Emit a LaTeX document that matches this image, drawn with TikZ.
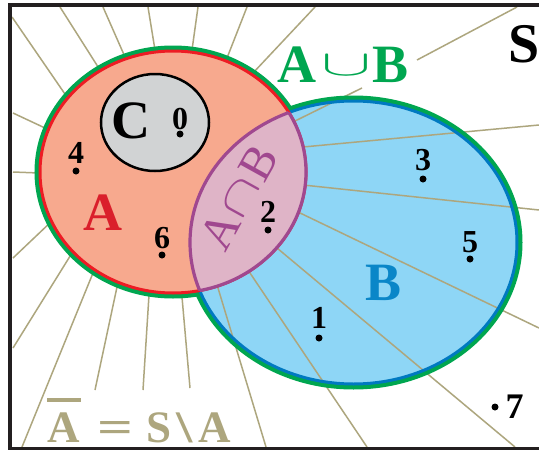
\documentclass[tikz,border=0pt]{standalone}
\usepackage{fontspec}
\setmainfont{Liberation Serif}
\usepackage{graphicx}
\usetikzlibrary{calc}
\definecolor{salmon}{HTML}{F7A98E}
\definecolor{sky}{HTML}{8ED6F6}
\definecolor{lenspink}{HTML}{DFB4C7}
\definecolor{lenspurple}{HTML}{A0488F}
\definecolor{ugreen}{HTML}{00A650}
\definecolor{ared}{HTML}{ED1C24}
\definecolor{alabel}{HTML}{DA1F2B}
\definecolor{bblue}{HTML}{0079C1}
\definecolor{blabel}{HTML}{0A86C8}
\definecolor{cgray}{HTML}{D1D3D4}
\definecolor{khaki}{HTML}{ADA67E}
\definecolor{framec}{HTML}{231F20}
\newcommand{\bigcupsym}{\resizebox{50pt}{20pt}{\fontsize{20.74}{20}\selectfont$\cup$}}
\newcommand{\bigcapsym}{\resizebox{40pt}{24pt}{\fontsize{20.74}{20}\selectfont$\cap$}}
\tikzset{
  hatch/.style={draw=khaki, line width=1.5pt},
  digit/.style={anchor=base, inner sep=0pt, font=\fontsize{32}{32}\selectfont\bfseries, text=black},
  elemdot/.style={circle, fill=black, inner sep=0pt, minimum size=7pt},
  biglabel/.style={anchor=base, inner sep=0pt, font=\fontsize{54}{54}\selectfont\bfseries},
}
\begin{document}
\begin{tikzpicture}[x=1pt,y=-1pt]
\useasboundingbox (0,0) rectangle (539,450);
\clip (0,0) rectangle (539,450);
\fill[white] (0,0) rectangle (539,450);

% hatching of the complement of A (under everything)
\foreach \ox/\oy/\ix/\iy in {12/17/67/97, 60/7/100/70, 103/7/125/57, 148/7/155/50,
  198/7/192/50, 247/7/227/58, 315/7/253/73, 362/88/293/122, 539/125/303/147,
  539/210/303/185, 539/328/298/212, 515/447/277/248, 367/447/250/273,
  266/447/218/288, 190/388/182/297, 143/390/149/295, 95/390/117/287,
  22/447/93/273, 13/348/72/253, 13/258/53/220, 13/172/39/173, 13/113/45/128}
  \draw[hatch] (\ox,\oy) -- ($(\ix,\iy)!-9pt!(\ox,\oy)$);
\draw[hatch] (517,7) -- (417,60);

% outline of the union
\draw[ugreen, line width=11pt] (173,172) ellipse [x radius=133pt, y radius=121pt];
\draw[ugreen, line width=11pt] (353.5,242.5) ellipse [x radius=163.5pt, y radius=141.5pt];

% B
\fill[sky] (353.5,242.5) ellipse [x radius=163.5pt, y radius=141.5pt];
\begin{scope}
  \clip (353.5,242.5) ellipse [x radius=163.5pt, y radius=141.5pt];
  \foreach \ox/\oy/\ix/\iy in {362/88/293/122, 539/125/303/147, 539/210/303/185,
    539/328/298/212, 515/447/277/248, 367/447/250/273, 266/447/218/288}
    \draw[hatch] (\ox,\oy) -- ($(\ix,\iy)!-9pt!(\ox,\oy)$);
\end{scope}
\draw[bblue, line width=3pt] (353.5,242.5) ellipse [x radius=163.5pt, y radius=141.5pt];

% A
\fill[salmon] (173,172) ellipse [x radius=133pt, y radius=121pt];
\draw[ared, line width=3pt] (173,172) ellipse [x radius=133pt, y radius=121pt];

% A cap B
\begin{scope}
  \clip (173,172) ellipse [x radius=133pt, y radius=121pt];
  \fill[lenspink] (353.5,242.5) ellipse [x radius=163.5pt, y radius=141.5pt];
  \draw[lenspurple, line width=3.2pt] (353.5,242.5) ellipse [x radius=163.5pt, y radius=141.5pt];
\end{scope}
\begin{scope}
  \clip (353.5,242.5) ellipse [x radius=163.5pt, y radius=141.5pt];
  \draw[lenspurple, line width=3.2pt] (173,172) ellipse [x radius=133pt, y radius=121pt];
\end{scope}

% C
\draw[black, line width=2.5pt, fill=cgray] (155,122.5) ellipse [x radius=54pt, y radius=48.5pt];

% labels
\node[biglabel] (labC) at (131,138) {C};
\node[biglabel, text=alabel] (labA) at (102.5,230) {A};
\node[biglabel, text=blabel] (labB) at (383.5,300) {B};
\node[biglabel, anchor=base west, font=\fontsize{56}{56}\selectfont\bfseries] (labS) at (508,62) {S};
\node[biglabel, text=ugreen, anchor=base west] (labU) at (277,82)
  {A\hspace{5pt}\raisebox{7pt}{\bigcupsym}\hspace{1pt}B};
\node[rotate=61, text=lenspurple, inner sep=0pt, font=\fontsize{48}{48}\selectfont] (labI) at (239,197)
  {A\hspace{2pt}\raisebox{2pt}{\bigcapsym}\hspace{2pt}B};
\node[anchor=base west, inner sep=0pt, text=khaki, font=\fontsize{45}{45}\selectfont\bfseries] (labComp) at (47,442)
  {\rlap{\raisebox{40.5pt}{\rule{34pt}{3.5pt}}}A\hspace{18pt}\scalebox{1.4}[1]{=}\hspace{13pt}S\hspace{5pt}\scalebox{1.3}[1]{\textbackslash}\hspace{6pt}A};

% elements
\node[digit] (n0) at (180,129) {0}; \node[elemdot] (d0) at (180,134) {};
\node[digit] (n4) at (76,163) {4};  \node[elemdot] (d4) at (76,171) {};
\node[digit] (n6) at (162,248) {6}; \node[elemdot] (d6) at (162,255) {};
\node[digit] (n2) at (268,222) {2}; \node[elemdot] (d2) at (268,230) {};
\node[digit] (n3) at (423,170) {3}; \node[elemdot] (d3) at (423,179) {};
\node[digit] (n5) at (470,252) {5}; \node[elemdot] (d5) at (470,259) {};
\node[digit] (n1) at (319,328) {1}; \node[elemdot] (d1) at (319,338) {};
\node[digit, font=\fontsize{36}{36}\selectfont\bfseries] (n7) at (514.5,418) {7};
\node[elemdot] (d7) at (495,407) {};

% frame
\draw[framec, line width=4pt] (10,5) rectangle (560,449);
\end{tikzpicture}
\end{document}
